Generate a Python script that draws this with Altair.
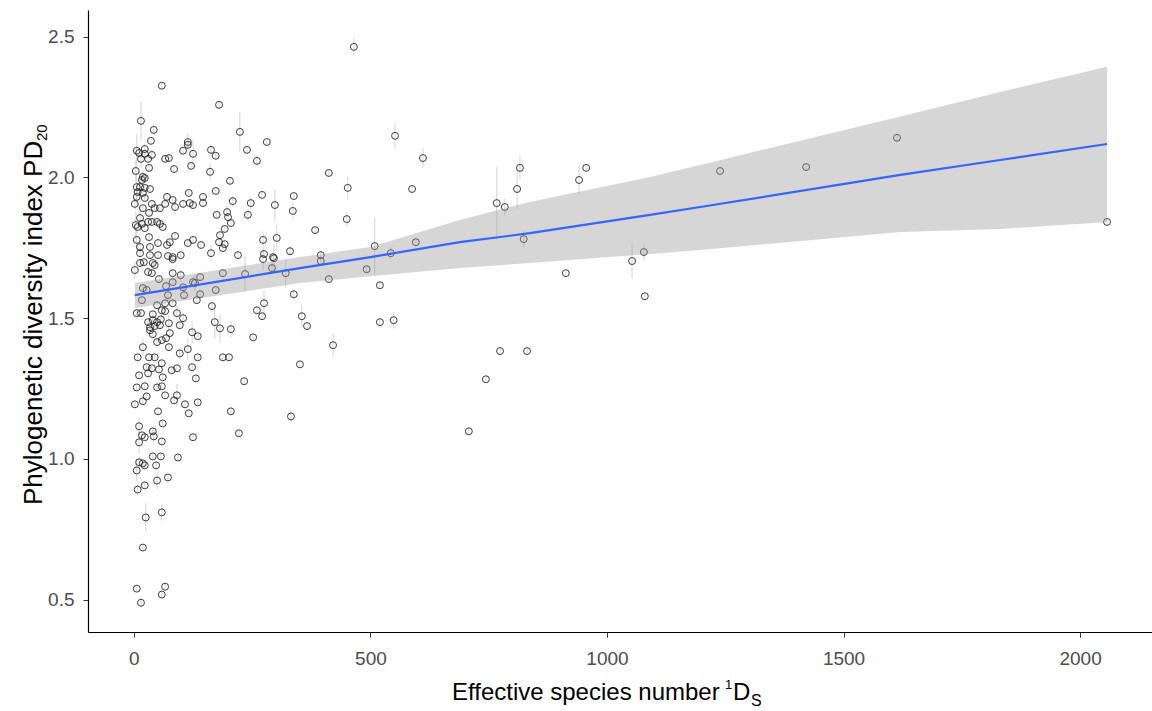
import altair as alt
import pandas as pd

FONT = "Liberation Sans, Arial, sans-serif"

# Points: (effective species number 1D_S, PD20, half-length of interval)
pts_sparse = [
    (465, 2.464, 0.03), (552, 2.148, 0.045), (611, 2.069, 0.035), (412, 2.016, 0.01),
    (452, 1.963, 0.04), (588, 1.959, 0.01), (450, 1.852, 0.025), (383, 1.813, 0.01),
    (395, 1.724, 0.015), (395, 1.703, 0.01), (509, 1.756, 0.10), (543, 1.731, 0.02),
    (596, 1.770, 0.015), (492, 1.674, 0.01), (412, 1.639, 0.01), (520, 1.617, 0.01),
    (355, 1.507, 0.04), (366, 1.472, 0.01), (520, 1.486, 0.01), (549, 1.493, 0.03),
    (421, 1.404, 0.04), (351, 1.336, 0.01), (744, 1.283, 0.01), (774, 1.383, 0.01),
    (831, 1.383, 0.01), (708, 1.098, 0.01), (767, 1.909, 0.13), (784, 1.895, 0.03),
    (816, 2.034, 0.04), (810, 1.959, 0.07), (824, 1.781, 0.03), (941, 1.991, 0.05),
    (956, 2.034, 0.01), (913, 1.660, 0.01), (1053, 1.703, 0.06), (1078, 1.735, 0.03),
    (1080, 1.578, 0.01), (1239, 2.023, 0.01), (1421, 2.037, 0.01), (1613, 2.141, 0.01),
    (2057, 1.842, 0.01),
]

pts_mid = [
    (180, 2.258, 0.01), (224, 2.162, 0.07), (281, 2.126, 0.01), (239, 2.098, 0.01),
    (260, 2.059, 0.02), (163, 2.098, 0.02), (173, 2.077, 0.01), (161, 2.020, 0.03),
    (203, 1.988, 0.01), (173, 1.952, 0.01), (209, 1.916, 0.02), (271, 1.938, 0.01),
    (338, 1.934, 0.01), (247, 1.909, 0.02), (298, 1.902, 0.055), (175, 1.867, 0.01),
    (197, 1.877, 0.02), (199, 1.859, 0.01), (241, 1.867, 0.02), (336, 1.881, 0.03),
    (205, 1.838, 0.01), (192, 1.817, 0.01), (182, 1.795, 0.01), (180, 1.770, 0.01),
    (192, 1.763, 0.01), (188, 1.749, 0.01), (302, 1.785, 0.045), (273, 1.778, 0.03),
    (330, 1.738, 0.02), (163, 1.731, 0.03), (220, 1.724, 0.01), (275, 1.728, 0.01),
    (294, 1.717, 0.01), (273, 1.710, 0.04), (296, 1.713, 0.05), (188, 1.660, 0.01),
    (235, 1.657, 0.065), (292, 1.678, 0.02), (321, 1.660, 0.05), (173, 1.600, 0.01),
    (338, 1.585, 0.02), (165, 1.543, 0.01), (275, 1.553, 0.045), (260, 1.528, 0.01),
    (271, 1.507, 0.01), (171, 1.486, 0.06), (182, 1.464, 0.05), (205, 1.461, 0.03),
    (252, 1.432, 0.01), (188, 1.361, 0.01), (201, 1.361, 0.01), (233, 1.276, 0.01),
    (205, 1.169, 0.01), (332, 1.151, 0.02), (222, 1.091, 0.01),
]

pts_dense_upper = [
    (59, 2.326, 0.01), (15, 2.201, 0.07), (42, 2.169, 0.02), (36, 2.130, 0.01),
    (114, 2.126, 0.03), (114, 2.116, 0.01), (104, 2.095, 0.01), (125, 2.084, 0.05),
    (6, 2.095, 0.06), (11, 2.087, 0.02), (23, 2.101, 0.02), (23, 2.084, 0.01),
    (38, 2.080, 0.02), (15, 2.066, 0.03), (30, 2.066, 0.01), (66, 2.066, 0.01),
    (74, 2.069, 0.01), (85, 2.030, 0.01), (121, 2.041, 0.01), (32, 2.034, 0.01),
    (4, 2.023, 0.04), (19, 2.002, 0.02), (23, 1.998, 0.01), (17, 1.991, 0.01),
    (6, 1.966, 0.05), (13, 1.966, 0.02), (23, 1.963, 0.01), (34, 1.959, 0.01),
    (8, 1.948, 0.01), (19, 1.945, 0.01), (6, 1.931, 0.03), (23, 1.927, 0.01),
    (70, 1.931, 0.01), (82, 1.920, 0.01), (87, 1.895, 0.03), (104, 1.906, 0.01),
    (116, 1.945, 0.01), (118, 1.909, 0.01), (125, 1.902, 0.01), (146, 1.931, 0.01),
    (146, 1.909, 0.01), (2, 1.906, 0.02), (19, 1.891, 0.01), (38, 1.906, 0.01),
    (44, 1.891, 0.01), (55, 1.891, 0.01), (66, 1.906, 0.01), (32, 1.874, 0.01),
    (13, 1.856, 0.04), (4, 1.831, 0.05), (8, 1.824, 0.01), (17, 1.835, 0.01),
    (30, 1.842, 0.01), (38, 1.842, 0.01), (49, 1.842, 0.01), (55, 1.835, 0.01),
    (61, 1.824, 0.01), (23, 1.820, 0.01), (6, 1.778, 0.04), (32, 1.788, 0.01),
    (87, 1.792, 0.01), (76, 1.770, 0.01), (70, 1.760, 0.01), (51, 1.767, 0.01),
    (34, 1.753, 0.01), (13, 1.753, 0.02), (114, 1.767, 0.01), (125, 1.778, 0.01),
    (142, 1.760, 0.01), (13, 1.731, 0.01), (34, 1.724, 0.01), (51, 1.724, 0.01),
    (72, 1.721, 0.01), (82, 1.717, 0.01), (99, 1.724, 0.01),
]

pts_dense_lower = [
    (13, 1.696, 0.01), (21, 1.699, 0.01), (40, 1.696, 0.01), (44, 1.689, 0.01),
    (82, 1.710, 0.01), (2, 1.671, 0.03), (30, 1.664, 0.01), (38, 1.660, 0.01),
    (82, 1.660, 0.01), (99, 1.653, 0.02), (140, 1.646, 0.01), (53, 1.639, 0.01),
    (19, 1.607, 0.01), (27, 1.600, 0.01), (68, 1.614, 0.01), (82, 1.628, 0.01),
    (104, 1.610, 0.01), (125, 1.628, 0.02), (129, 1.625, 0.03), (140, 1.585, 0.01),
    (17, 1.564, 0.01), (72, 1.582, 0.02), (106, 1.582, 0.01), (49, 1.546, 0.01),
    (66, 1.553, 0.01), (82, 1.553, 0.01), (133, 1.564, 0.01), (6, 1.518, 0.01),
    (15, 1.518, 0.01), (40, 1.514, 0.01), (59, 1.528, 0.03), (66, 1.525, 0.01),
    (91, 1.518, 0.03), (30, 1.486, 0.01), (40, 1.493, 0.01), (49, 1.486, 0.01),
    (57, 1.496, 0.01), (34, 1.468, 0.01), (44, 1.472, 0.01), (55, 1.475, 0.01),
    (74, 1.482, 0.03), (104, 1.500, 0.02), (97, 1.475, 0.01), (34, 1.457, 0.01),
    (40, 1.443, 0.01), (123, 1.450, 0.04), (135, 1.436, 0.01), (76, 1.447, 0.01),
    (49, 1.415, 0.01), (59, 1.422, 0.01), (68, 1.429, 0.01), (74, 1.397, 0.01),
    (19, 1.397, 0.03), (114, 1.390, 0.04), (97, 1.375, 0.02), (135, 1.361, 0.01),
    (8, 1.361, 0.01), (32, 1.361, 0.01), (44, 1.361, 0.01), (59, 1.340, 0.01),
    (27, 1.326, 0.01), (38, 1.322, 0.01), (53, 1.318, 0.01), (80, 1.315, 0.01),
    (91, 1.322, 0.01), (123, 1.326, 0.01), (11, 1.297, 0.01), (30, 1.304, 0.01),
    (61, 1.290, 0.01), (131, 1.286, 0.01), (6, 1.254, 0.01), (23, 1.258, 0.01),
    (49, 1.254, 0.01), (59, 1.258, 0.01), (66, 1.226, 0.01), (27, 1.222, 0.01),
    (19, 1.205, 0.01), (85, 1.208, 0.01), (91, 1.226, 0.04), (2, 1.194, 0.01),
    (108, 1.194, 0.01), (135, 1.201, 0.01), (51, 1.169, 0.01), (116, 1.162, 0.01),
    (11, 1.116, 0.03), (61, 1.126, 0.01),
]

pts_low = [
    (17, 1.084, 0.01), (23, 1.077, 0.01), (40, 1.098, 0.01), (42, 1.080, 0.03),
    (59, 1.062, 0.01), (11, 1.059, 0.04), (125, 1.077, 0.01), (40, 1.009, 0.01),
    (57, 1.009, 0.01), (93, 1.005, 0.01), (11, 0.988, 0.02), (19, 0.984, 0.01),
    (23, 0.977, 0.01), (47, 0.977, 0.01), (6, 0.959, 0.04), (49, 0.923, 0.03),
    (72, 0.934, 0.01), (8, 0.891, 0.02), (23, 0.906, 0.01), (25, 0.792, 0.05),
    (59, 0.810, 0.03), (19, 0.685, 0.01), (6, 0.539, 0.01), (66, 0.546, 0.01),
    (59, 0.518, 0.01), (15, 0.489, 0.01),
]

# Fitted line and its interval
band_x = [2, 351, 500, 689, 837, 1091, 1197, 1620, 1831, 2057]
band_lo = [1.536, 1.625, 1.649, 1.678, 1.696, 1.728, 1.742, 1.806, 1.817, 1.842]
band_fit = [1.582, 1.678, 1.717, 1.770, 1.802, 1.867, 1.895, 2.009, 2.062, 2.119]
band_hi = [1.625, 1.717, 1.753, 1.849, 1.913, 2.002, 2.044, 2.217, 2.304, 2.393]

x_ticks = [0, 500, 1000, 1500, 2000]
y_ticks = [0.5, 1.0, 1.5, 2.0, 2.5]
x_domain = [-97, 2152]
y_domain = [0.385, 2.595]

rows = pts_sparse + pts_mid + pts_dense_upper + pts_dense_lower + pts_low
pts = pd.DataFrame(rows, columns=["x", "y", "err"])
pts["lo"] = pts["y"] - pts["err"]
pts["hi"] = pts["y"] + pts["err"]

band = pd.DataFrame({"x": band_x, "lo": band_lo, "fit": band_fit, "hi": band_hi})

xs = alt.Scale(domain=x_domain, nice=False, zero=False)
ys = alt.Scale(domain=y_domain, nice=False, zero=False)

x_axis = alt.Axis(values=x_ticks, format="d", title=None, grid=False, tickSize=5,
                  tickColor="#333333", domainColor="#000000", domainWidth=1.2,
                  labelFontSize=19, labelFont=FONT, labelColor="#4d4d4d", labelPadding=12)
y_axis = alt.Axis(values=y_ticks, format=".1f", title=None, grid=False, tickSize=5,
                  tickColor="#333333", domainColor="#000000", domainWidth=1.2,
                  labelFontSize=19, labelFont=FONT, labelColor="#4d4d4d", labelPadding=9)

err = alt.Chart(pts).mark_rule(color="#c8c8c8", strokeWidth=1, opacity=0.8).encode(
    x=alt.X("x:Q", scale=xs, axis=x_axis),
    y=alt.Y("lo:Q", scale=ys, axis=y_axis),
    y2="hi:Q",
)

points = alt.Chart(pts).mark_point(shape="circle", filled=False, size=48, color="#1a1a1a",
                                   strokeWidth=1, opacity=0.85).encode(
    x=alt.X("x:Q", scale=xs),
    y=alt.Y("y:Q", scale=ys),
)

area = alt.Chart(band).mark_area(color="#999999", opacity=0.4).encode(
    x=alt.X("x:Q", scale=xs),
    y=alt.Y("lo:Q", scale=ys),
    y2="hi:Q",
)

line = alt.Chart(band).mark_line(color="#3366FF", strokeWidth=2.2).encode(
    x=alt.X("x:Q", scale=xs),
    y=alt.Y("fit:Q", scale=ys),
)


def label(text, x, y, size, angle=0):
    return alt.Chart(pd.DataFrame({"t": [text]})).mark_text(
        text=text, font=FONT, fontSize=size, angle=angle, align="left",
        baseline="alphabetic", color="#000000",
    ).encode(x=alt.value(x), y=alt.value(y))


titles = [
    label("Effective species number", 364, 690, 24),
    label("1", 637, 679, 13),
    label("D", 645, 690, 24),
    label("S", 663, 696, 16),
    label("Phylogenetic diversity index PD", -46, 495, 26, angle=270),
    label("20", -41, 131, 15, angle=270),
]

chart = alt.layer(err, points, area, line, *titles).properties(
    width=1064, height=622,
    autosize=alt.AutoSizeParams(type="none"),
    padding={"left": 88, "top": 10, "right": 0, "bottom": 79},
    background="white",
).configure_view(stroke=None)

chart.save("out.html", embed_options={"renderer": "svg", "actions": False})
